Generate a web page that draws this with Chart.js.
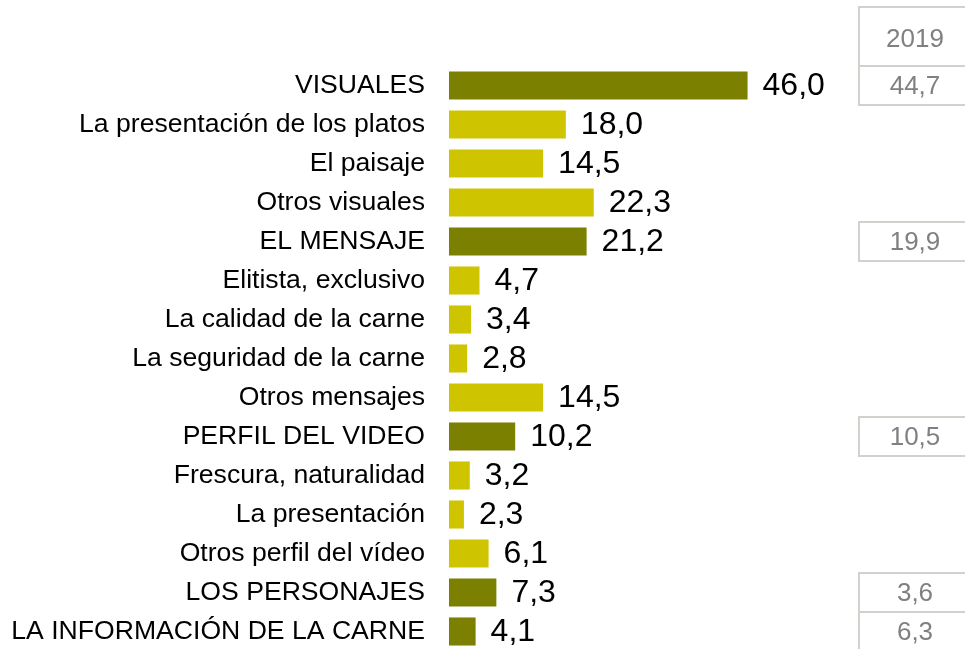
<!DOCTYPE html>
<html>
<head>
<meta charset="utf-8">
<script src="https://cdn.jsdelivr.net/npm/chart.js@4"></script>
<style>
  html, body { margin: 0; padding: 0; background: #fff; overflow: hidden; }
</style>
</head>
<body>
<canvas id="chart" width="965" height="651"></canvas>
<script>
// Categories, current values, and the 2019 comparison column
const categories = [
  "VISUALES",
  "La presentación de los platos",
  "El paisaje",
  "Otros visuales",
  "EL MENSAJE",
  "Elitista, exclusivo",
  "La calidad de la carne",
  "La seguridad de la carne",
  "Otros mensajes",
  "PERFIL DEL VIDEO",
  "Frescura, naturalidad",
  "La presentación",
  "Otros perfil del vídeo",
  "LOS PERSONAJES",
  "LA INFORMACIÓN DE LA CARNE",
];
const values = [46.0, 18.0, 14.5, 22.3, 21.2, 4.7, 3.4, 2.8, 14.5, 10.2, 3.2, 2.3, 6.1, 7.3, 4.1];
// true = main group row (dark bar), false = sub-item
const mainRows = [true, false, false, false, true, false, false, false, false, true, false, false, false, true, true];
const compareLabel = "2019";
const values2019 = [44.7, null, null, null, 19.9, null, null, null, null, 10.5, null, null, null, 3.6, 6.3];

const DARK = "#7b8000";
const LIGHT = "#cfc400";
const FONT = "'Liberation Sans', Arial, sans-serif";

function fmt(v) {
  return v.toFixed(1).replace(".", ",");
}

// Value labels at the end of each bar
const valueLabels = {
  id: "valueLabels",
  afterDatasetsDraw(chart) {
    const ctx = chart.ctx;
    const meta = chart.getDatasetMeta(0);
    ctx.save();
    ctx.font = "32px " + FONT;
    ctx.fillStyle = "#000";
    ctx.textAlign = "left";
    ctx.textBaseline = "middle";
    meta.data.forEach((bar, i) => {
      ctx.fillText(fmt(values[i]), bar.x + 15, bar.y + 1);
    });
    ctx.restore();
  },
};

// Boxed 2019 column on the right
const compareColumn = {
  id: "compareColumn",
  afterDraw(chart) {
    const ctx = chart.ctx;
    const y = chart.scales.y;
    const rowH = y.height / categories.length;
    const left = 859;
    const right = chart.width + 10;
    const cx = 915;
    ctx.save();
    ctx.strokeStyle = "#d4d0cc";
    ctx.lineWidth = 2;
    ctx.fillStyle = "#808080";
    ctx.font = "26px " + FONT;
    ctx.textAlign = "center";
    ctx.textBaseline = "middle";

    // header box above first row
    const firstTop = y.getPixelForValue(0) - rowH / 2;
    ctx.strokeRect(left, 7, right - left, firstTop - 7);
    ctx.fillText(compareLabel, cx, (7 + firstTop) / 2 + 3);

    values2019.forEach((v, i) => {
      if (v === null) return;
      const top = y.getPixelForValue(i) - rowH / 2;
      ctx.strokeRect(left, top, right - left, rowH);
      ctx.fillText(fmt(v), cx, top + rowH / 2 + 1);
    });
    ctx.restore();
  },
};

const ctx = document.getElementById("chart").getContext("2d");
new Chart(ctx, {
  type: "bar",
  data: {
    labels: categories,
    datasets: [
      {
        data: values,
        backgroundColor: mainRows.map((m) => (m ? DARK : LIGHT)),
        borderWidth: 0,
        barPercentage: 0.72,
        categoryPercentage: 1,
      },
    ],
  },
  options: {
    indexAxis: "y",
    responsive: false,
    animation: false,
    layout: { padding: { top: 66, bottom: 0, left: 0, right: 0 } },
    plugins: {
      legend: { display: false },
      tooltip: { enabled: false },
    },
    scales: {
      x: {
        display: false,
        min: 0,
        max: 79.5,
      },
      y: {
        grid: { display: false, drawTicks: false },
        border: { display: false },
        ticks: {
          color: "#000",
          padding: 24,
          autoSkip: false,
          font: { family: FONT, size: 26.6 },
        },
        afterFit(scale) {
          scale.width = 449;
          scale.paddingTop = 0;
          scale.paddingBottom = 0;
        },
      },
    },
  },
  plugins: [valueLabels, compareColumn],
});
</script>
</body>
</html>
